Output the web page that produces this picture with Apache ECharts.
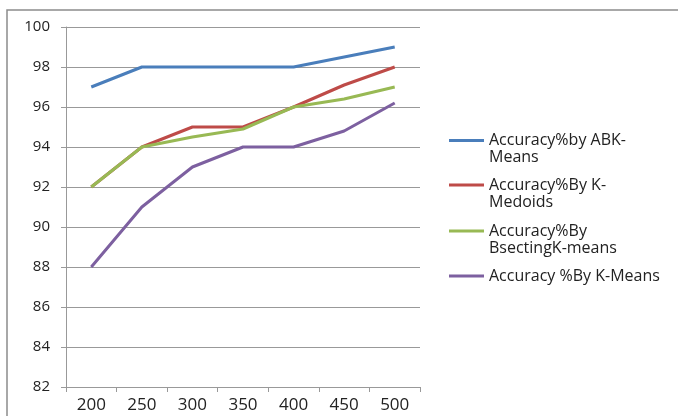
<!DOCTYPE html>
<html>
<head>
<meta charset="utf-8">
<script src="https://cdn.jsdelivr.net/npm/echarts@6/dist/echarts.min.js"></script>
<style>html,body{margin:0;padding:0;background:#fff}#c{width:678px;height:416px}</style>
</head>
<body>
<div id="c"></div>
<script>
const categories = ['200', '250', '300', '350', '400', '450', '500'];
const seriesNames = ['Accuracy%by ABK-\nMeans', 'Accuracy%By K-\nMedoids', 'Accuracy%By\nBsectingK-means', 'Accuracy %By K-Means'];
const abkMeans = [97, 98, 98, 98, 98, 98.5, 99];
const kMedoids = [92, 94, 95, 95, 96, 97.1, 98];
const bisecting = [92, 94, 94.5, 94.9, 96, 96.4, 97];
const kMeans = [88, 91, 93, 94, 94, 94.8, 96.2];
const yTicks = [82, 84, 86, 88, 90, 92, 94, 96, 98, 100];

const colors = ['#4A7EBB', '#BE4B48', '#98B954', '#7D60A0'];
const values = [abkMeans, kMedoids, bisecting, kMeans];
const FONT = 'Open Sans';

const legendTops = [127, 171.5, 217.5, 262.5];
const legends = seriesNames.map((n, i) => {
  const two = n.indexOf('\n') >= 0;
  const h = two ? 34 : 15;
  const c = two ? 8.5 : 7.5;
  return {
    data: [n],
    orient: 'vertical',
    left: 444,
    top: legendTops[i],
    itemWidth: 35,
    itemHeight: h,
    itemGap: 5,
    icon: 'path://M0,0 H0.01 V0.01 H0 Z M0,' + (c - 1.5) + ' H35 V' + (c + 1.5) + ' H0 Z M0,' + (h - 0.01) + ' H0.01 V' + h + ' H0 Z',
    textStyle: {fontFamily: FONT, fontSize: 16, color: '#222', lineHeight: 17}
  };
});

const chart = echarts.init(document.getElementById('c'), null, {renderer: 'canvas'});
chart.setOption({
  animation: false,
  backgroundColor: '#fff',
  color: colors,
  graphic: [{
    type: 'polyline',
    shape: {points: [[7, 416], [7, 10], [678, 10]]},
    style: {stroke: '#8c8c8c', lineWidth: 1.5, fill: null},
    silent: true
  }],
  legend: legends,
  grid: {left: 66, top: 27, width: 354, bottom: 29},
  xAxis: {
    type: 'category',
    data: categories,
    boundaryGap: true,
    axisLine: {lineStyle: {color: '#999', width: 1}},
    axisTick: {show: true, length: 5, lineStyle: {color: '#999'}},
    axisLabel: {fontFamily: FONT, fontSize: 17, color: '#222', margin: 10},
    splitLine: {show: false}
  },
  yAxis: {
    type: 'value',
    min: yTicks[0],
    max: yTicks[yTicks.length - 1],
    interval: 2,
    axisLine: {show: true, lineStyle: {color: '#999', width: 1}},
    axisTick: {show: true, length: 5, lineStyle: {color: '#999'}},
    axisLabel: {fontFamily: FONT, fontSize: 15, color: '#222', margin: 16},
    splitLine: {show: true, lineStyle: {color: '#999', width: 1}}
  },
  series: seriesNames.map((n, i) => ({
    name: n,
    type: 'line',
    data: values[i],
    symbol: 'none',
    lineStyle: {width: 3, color: colors[i]},
    itemStyle: {color: colors[i]}
  }))
});
</script>
</body>
</html>
